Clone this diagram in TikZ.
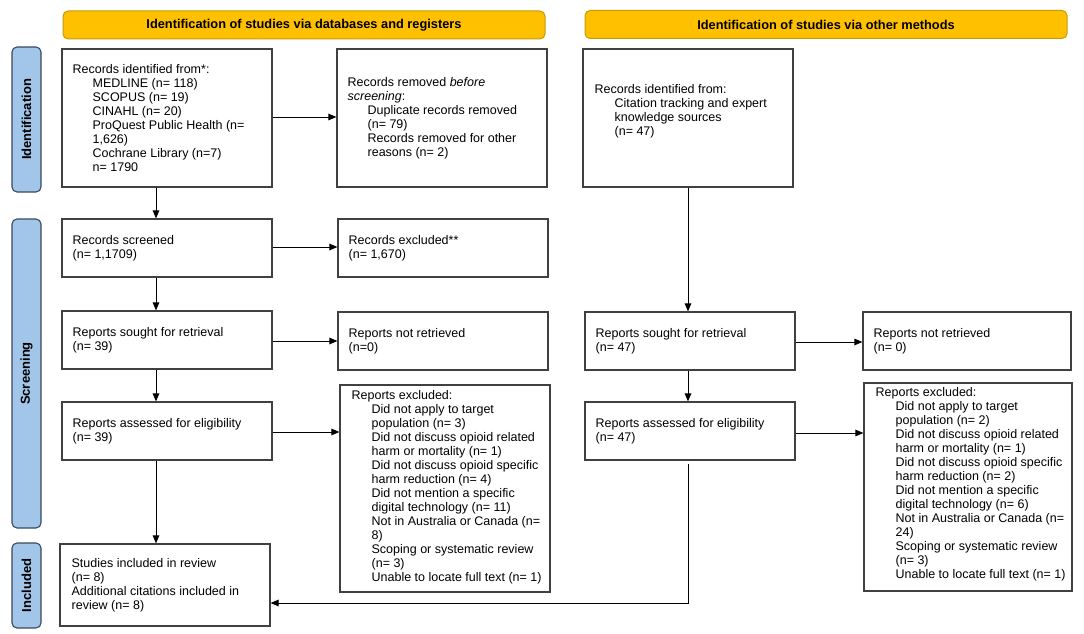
\documentclass[tikz,border=0pt]{standalone}
\usepackage{fontspec}
\setmainfont{Liberation Sans}
\usetikzlibrary{arrows.meta,calc}
\definecolor{hdrfill}{HTML}{FFC000}
\definecolor{hdrdraw}{HTML}{C89A08}
\definecolor{barfill}{HTML}{A2C5EA}
\definecolor{bardraw}{HTML}{3B4A5C}
\definecolor{boxgray}{HTML}{404040}
\newcommand{\myind}{\hspace*{20pt}}
\begin{document}
\begin{tikzpicture}[x=1pt,y=-1pt,
  box/.style={draw=boxgray, line width=1.1pt, fill=white, inner sep=0pt,
    minimum width=210pt, minimum height=#1},
  box/.default=58,
  txt/.style={inner sep=0pt, align=left, anchor=west, font=\fontsize{12.5}{14}\selectfont},
  hdr/.style={draw=hdrdraw, line width=1pt, fill=hdrfill, rounded corners=5pt,
    minimum width=482pt, minimum height=28pt, inner sep=0pt, font=\fontsize{12.8}{14}\selectfont\bfseries},
  sidebar/.style={draw=bardraw, line width=1.1pt, fill=barfill, rounded corners=5pt,
    rotate=90, minimum height=29pt, inner sep=0pt, font=\fontsize{13}{14}\selectfont\bfseries},
  arr/.style={-{Triangle[length=8pt,width=6.5pt]}, line width=1pt, black}]
\useasboundingbox (0,0) rectangle (1084,634);

% headers
\node[hdr] (hl) at (304,25) {Identification of studies via databases and registers};
\node[hdr] (hr) at (826,24.5) {Identification of studies via other methods};

% side bars
\node[sidebar, minimum width=145pt] (sid) at (26.5,119.5) {Identification};
\node[sidebar, minimum width=309pt] (ssc) at (26.5,373.5) {Screening};
\node[sidebar, minimum width=85pt] (sin) at (26.5,585.5) {Included};

% column coordinates
\coordinate (colL) at (156,0);
\coordinate (colR) at (688,0);
\coordinate (turn) at (688,603);

% boxes
\node[box=138] (b1) at (167,118) {};
\node[box=138] (b2) at (442,118) {};
\node[box=138] (b3) at (688,118) {};
\node[box] (s1) at (167,248) {};
\node[box] (s2) at (443,248) {};
\node[box] (r1) at (167,340) {};
\node[box] (r2) at (443,341) {};
\node[box] (r3) at (690,341) {};
\node[box, minimum width=208pt] (r4) at (967,341) {};
\node[box] (a1) at (167,431) {};
\node[box=207] (e1) at (445,488.5) {};
\node[box] (a2) at (690,431) {};
\node[box=208, minimum width=208pt] (e2) at (968,487) {};
\node[box=82] (inc) at (165,585) {};

% texts
\node[txt] (tb1) at ($(b1.west)+(11,0)$) {Records identified from*:\\
\myind MEDLINE (n= 118)\\
\myind SCOPUS (n= 19)\\
\myind CINAHL (n= 20)\\
\myind ProQuest Public Health (n=\\
\myind 1,626)\\
\myind Cochrane Library (n=7)\\
\myind n= 1790};
\node[txt] (tb2) at ($(b2.west)+(11,0)$) {Records removed \textit{before}\\
\textit{screening}:\\
\myind Duplicate records removed\\
\myind (n= 79)\\
\myind Records removed for other\\
\myind reasons (n= 2)};
\node[txt] (tb3) at ($(b3.west)+(12,-7)$) {Records identified from:\\
\myind Citation tracking and expert\\
\myind knowledge sources\\
\myind (n= 47)};
\node[txt] (ts1) at ($(s1.west)+(11,0)$) {Records screened\\(n= 1,1709)};
\node[txt] (ts2) at ($(s2.west)+(11,0)$) {Records excluded**\\(n= 1,670)};
\node[txt] (tr1) at ($(r1.west)+(11,0)$) {Reports sought for retrieval\\(n= 39)};
\node[txt] (tr2) at ($(r2.west)+(11,0)$) {Reports not retrieved\\(n=0)};
\node[txt] (tr3) at ($(r3.west)+(11,0)$) {Reports sought for retrieval\\(n= 47)};
\node[txt] (tr4) at ($(r4.west)+(11,0)$) {Reports not retrieved\\(n= 0)};
\node[txt] (ta1) at ($(a1.west)+(11,0)$) {Reports assessed for eligibility\\(n= 39)};
\node[txt] (ta2) at ($(a2.west)+(11,0)$) {Reports assessed for eligibility\\(n= 47)};
\node[txt] (te1) at ($(e1.west)+(12,-1)$) {Reports excluded:\\
\myind Did not apply to target\\
\myind population (n= 3)\\
\myind Did not discuss opioid related\\
\myind harm or mortality (n= 1)\\
\myind Did not discuss opioid specific\\
\myind harm reduction (n= 4)\\
\myind Did not mention a specific\\
\myind digital technology (n= 11)\\
\myind Not in Australia or Canada (n=\\
\myind 8)\\
\myind Scoping or systematic review\\
\myind (n= 3)\\
\myind Unable to locate full text (n= 1)};
\node[txt] (te2) at ($(e2.west)+(12,-3)$) {Reports excluded:\\
\myind Did not apply to target\\
\myind population (n= 2)\\
\myind Did not discuss opioid related\\
\myind harm or mortality (n= 1)\\
\myind Did not discuss opioid specific\\
\myind harm reduction (n= 2)\\
\myind Did not mention a specific\\
\myind digital technology (n= 6)\\
\myind Not in Australia or Canada (n=\\
\myind 24)\\
\myind Scoping or systematic review\\
\myind (n= 3)\\
\myind Unable to locate full text (n= 1)};
\node[txt] (tinc) at ($(inc.west)+(12,0)$) {Studies included in review\\
(n= 8)\\
Additional citations included in\\
review (n= 8)};

% connectors
\draw[arr] (b1.east |- 0,117) -- (b2.west |- 0,117);
\draw[arr] (b1.south -| colL) -- (s1.north -| colL);
\draw[arr] (s1.east |- 0,247) -- (s2.west |- 0,247);
\draw[arr] (s1.south -| colL) -- (r1.north -| colL);
\draw[arr] (r1.east |- 0,341) -- (r2.west |- 0,341);
\draw[arr] (r1.south -| colL) -- (a1.north -| colL);
\draw[arr] (a1.east |- 0,432) -- (e1.west |- 0,432);
\draw[arr] (a1.south -| colL) -- (inc.north -| colL);
\draw[arr] (b3.south -| colR) -- (r3.north -| colR);
\draw[arr] (r3.east |- 0,342) -- (r4.west |- 0,342);
\draw[arr] (r3.south -| colR) -- (a2.north -| colR);
\draw[arr] (a2.east |- 0,433) -- (e2.west |- 0,433);
\draw[arr] ([yshift=-3pt]a2.south -| colR) -- (turn) -- (inc.east |- turn);
\end{tikzpicture}
\end{document}
